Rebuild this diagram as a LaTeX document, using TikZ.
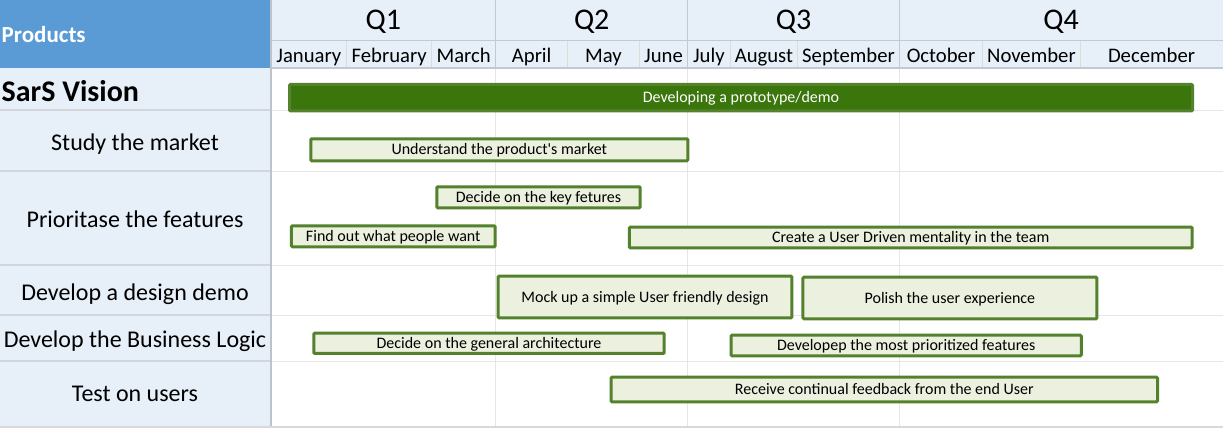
\documentclass[tikz,border=0pt]{standalone}
\usepackage{fontspec}
\setmainfont{Carlito}[Ligatures=TeXOff]

\definecolor{hdrblue}{RGB}{91,155,213}
\definecolor{paleblue}{RGB}{231,239,249}
\definecolor{hdrline}{RGB}{196,201,208}
\definecolor{monthsep}{RGB}{221,221,212}
\definecolor{bodygrid}{RGB}{230,230,230}
\definecolor{leftsep}{RGB}{210,214,220}
\definecolor{colborder}{RGB}{190,195,202}
\definecolor{darkfill}{RGB}{58,118,12}
\definecolor{darkedge}{RGB}{84,130,45}
\definecolor{lightfill}{RGB}{235,241,222}
\definecolor{lightedge}{RGB}{83,129,45}

\tikzset{
  quarter/.style={anchor=base, font=\fontsize{30}{34}\selectfont},
  month/.style={anchor=base, font=\fontsize{20.7}{24}\selectfont},
  rowlabel/.style={anchor=base, font=\fontsize{24}{28}\selectfont},
  taskbar/.style={draw=lightedge, fill=lightfill, line width=3pt, rounded corners=1pt,
    inner sep=0pt, text height=12pt, text depth=2pt,
    font=\fontsize{16}{18}\selectfont},
  mainbar/.style={taskbar, draw=darkedge, fill=darkfill, text=white},
}

\begin{document}
\begin{tikzpicture}[x=1pt,y=-1pt]
\useasboundingbox (0,0) rectangle (1223,428);

% cell backgrounds
\fill[paleblue] (0,0) rectangle (1223,68);
\fill[hdrblue] (0,0) rectangle (271,68);
\fill[paleblue] (0,68) rectangle (271,426);
\fill[white] (271,68) rectangle (1223,426);

% body grid
\foreach \y in {110,171,265,315,361}{
  \draw[bodygrid, line width=1pt] (271,\y) -- (1223,\y);
  \draw[leftsep, line width=1.2pt] (0,\y) -- (271,\y);
}
\foreach \x in {495.7,687.7,899.3}
  \draw[bodygrid, line width=1pt] (\x,68) -- (\x,426);

% header grid
\foreach \x in {346.7,431.7,567.7,639.3,730,797.7,982.7,1080}
  \draw[monthsep, line width=1pt] (\x,41) -- (\x,68);
\draw[hdrline, line width=1pt] (271,41) -- (1223,41);
\foreach \x in {495.7,687.7,899.3}
  \draw[hdrline, line width=1pt] (\x,0) -- (\x,68);
\draw[hdrline, line width=1.3pt] (271,68) -- (1223,68);
\draw[colborder, line width=1.3pt] (271,0) -- (271,426);
\fill[black!15] (0,425.6) rectangle (1223,428);

% header texts
\node[anchor=base west, inner sep=0pt, text=white, font=\fontsize{23}{26}\selectfont\bfseries] (products) at (1.5,42.3) {Products};
\node[quarter] (q1) at (383.3,30) {Q1};
\node[quarter] (q2) at (591.7,30) {Q2};
\node[quarter] (q3) at (793.5,30) {Q3};
\node[quarter] (q4) at (1061.1,30) {Q4};

\node[month] (jan) at (308.9,62.3) {January};
\node[month] (feb) at (389.2,62.3) {February};
\node[month] (mar) at (463.7,62.3) {March};
\node[month] (apr) at (531.7,62.3) {April};
\node[month] (may) at (603.5,62.3) {May};
\node[month] (jun) at (663.5,62.3) {June};
\node[month] (jul) at (708.9,62.3) {July};
\node[month] (aug) at (763.9,62.3) {August};
\node[month] (sep) at (848.5,62.3) {September};
\node[month] (oct) at (941,62.3) {October};
\node[month] (nov) at (1031.4,62.3) {November};
\node[month] (dec) at (1151.5,62.3) {December};

% row labels
\node[anchor=base west, inner sep=0pt, font=\fontsize{30}{34}\selectfont\bfseries] (sars) at (1.5,101.3) {SarS Vision};
\node[rowlabel] (market) at (135,150) {Study the market};
\node[rowlabel] (prio) at (135,227.3) {Prioritase the features};
\node[rowlabel] (design) at (135,300) {Develop a design demo};
\node[rowlabel] (logic) at (135,347.3) {Develop the Business Logic};
\node[rowlabel] (test) at (135,401.7) {Test on users};

% task bars
\node[mainbar, minimum width=903pt, minimum height=26.5pt] (proto) at (741,97.7) {Developing a prototype/demo};
\node[taskbar, minimum width=377pt, minimum height=22pt] (understand) at (499.3,149.8) {Understand the product's market};
\node[taskbar, minimum width=203.4pt, minimum height=21pt] (keyfeat) at (538.5,197.3) {Decide on the key fetures};
\node[taskbar, minimum width=203.7pt, minimum height=21pt] (people) at (393.3,236.3) {Find out what people want};
\node[taskbar, minimum width=562.8pt, minimum height=20.6pt] (mentality) at (910.7,237.5) {Create a User Driven mentality in the team};
\node[taskbar, minimum width=293.9pt, minimum height=41.6pt] (mockup) at (645,297) {Mock up a simple User friendly design};
\node[taskbar, minimum width=293.9pt, minimum height=41.6pt] (polish) at (949.9,298) {Polish the user experience};
\node[taskbar, minimum width=350.4pt, minimum height=20.3pt] (arch) at (489,343.3) {Decide on the general architecture};
\node[taskbar, minimum width=350.1pt, minimum height=20.6pt] (features) at (906.2,345.5) {Developep the most prioritized features};
\node[taskbar, minimum width=546.5pt, minimum height=24.6pt] (feedback) at (884.3,389.5) {Receive continual feedback from the end User};
\end{tikzpicture}
\end{document}
